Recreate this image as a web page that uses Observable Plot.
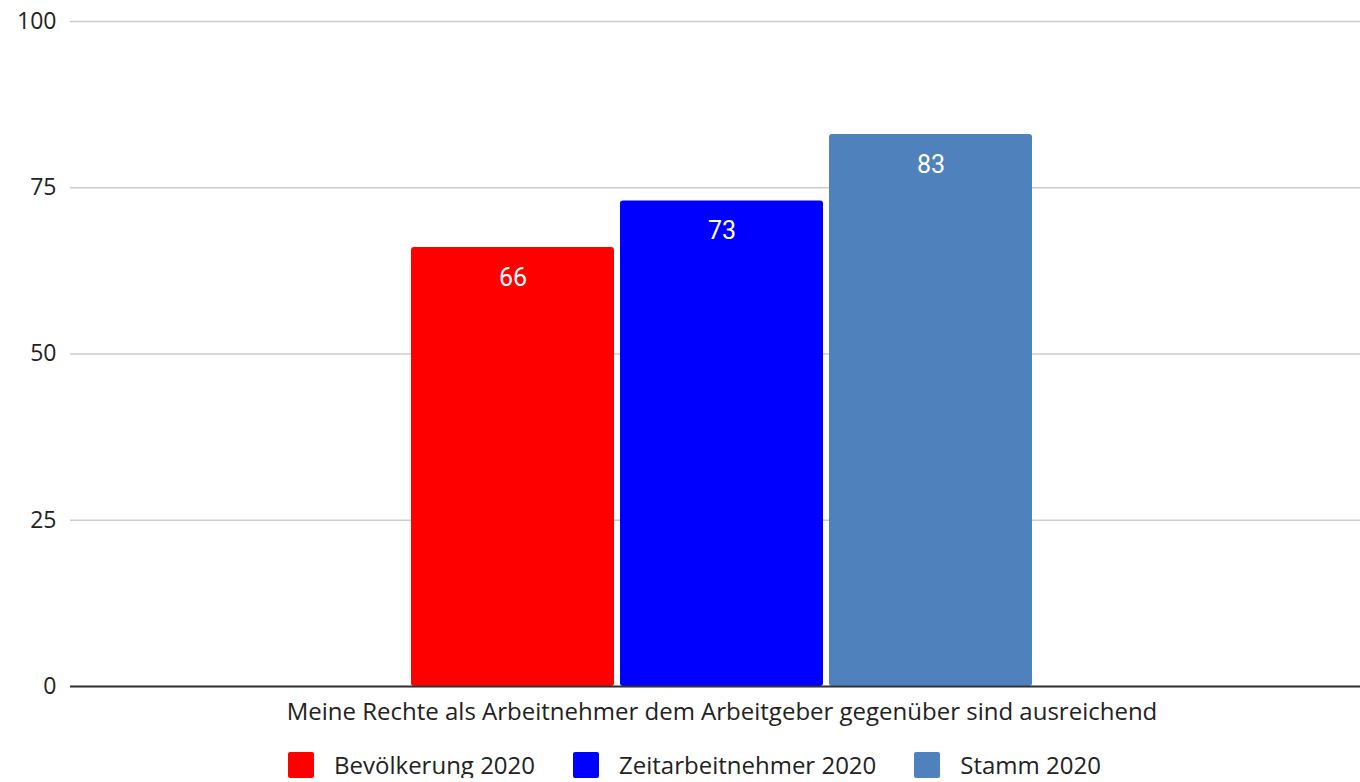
<!DOCTYPE html>
<html><head><meta charset="utf-8">
<script src="https://cdn.jsdelivr.net/npm/d3@7"></script>
<script src="https://cdn.jsdelivr.net/npm/@observablehq/plot@0.6"></script>
<style>
html,body{margin:0;padding:0;background:#fff;}
#legend{display:flex;justify-content:center;align-items:center;font-family:"Open Sans",sans-serif;font-size:24px;line-height:26px;color:#222;height:26px;margin-top:18px;padding-left:29px;}
#legend .item{display:flex;align-items:center;margin:0 19px;white-space:nowrap;}
#legend .sw{width:26px;height:26px;border-radius:2px;margin-right:20px;}
</style>
</head><body>
<div id="chart"></div>
<div id="legend"></div>
<script>
const category = "Meine Rechte als Arbeitnehmer dem Arbeitgeber gegenüber sind ausreichend";
const series = ["Bevölkerung 2020", "Zeitarbeitnehmer 2020", "Stamm 2020"];
const values = [66, 73, 83];
const colors = ["#ff0000", "#0000ff", "#4f81bd"];
const yTicks = [0, 25, 50, 75, 100];

const data = series.map((s, i) => ({series: s, value: values[i]}));

const chart = Plot.plot({
  width: 1360,
  height: 734,
  marginTop: 21,
  marginLeft: 70,
  marginRight: 0,
  marginBottom: 48,
  style: {fontFamily: "'Open Sans', sans-serif", fontSize: "22px", color: "#222", background: "#fff"},
  x: {domain: series, range: [411, 1032], paddingInner: 0.03, paddingOuter: 0, axis: null},
  y: {domain: [0, 100], label: null, axis: null},
  color: {domain: series, range: colors},
  marks: [
    Plot.gridY(yTicks, {stroke: "#cccccc", strokeWidth: 1.5, strokeOpacity: 1}),
    Plot.axisY(yTicks, {tickSize: 0, tickPadding: 14, fontSize: 23, fill: "#222", label: null}),
    Plot.barY(data, {x: "series", y: "value", fill: "series", rx: 3}),
    Plot.ruleY([0], {stroke: "#333", strokeWidth: 2}),
    Plot.text(data, {x: "series", y: "value", text: d => String(d.value), fill: "#fff", dy: 30, fontSize: 25, fontFamily: "Roboto, sans-serif"}),
    Plot.text([category], {x: () => series[1], frameAnchor: "bottom", dy: 33, text: d => d, fill: "#222", fontSize: 24})
  ]
});
document.getElementById("chart").appendChild(chart);

const legend = document.getElementById("legend");
series.forEach((s, i) => {
  const it = document.createElement("div");
  it.className = "item";
  const sw = document.createElement("div");
  sw.className = "sw";
  sw.style.background = colors[i];
  const t = document.createElement("span");
  t.textContent = s;
  it.appendChild(sw); it.appendChild(t);
  legend.appendChild(it);
});
</script>
</body></html>
